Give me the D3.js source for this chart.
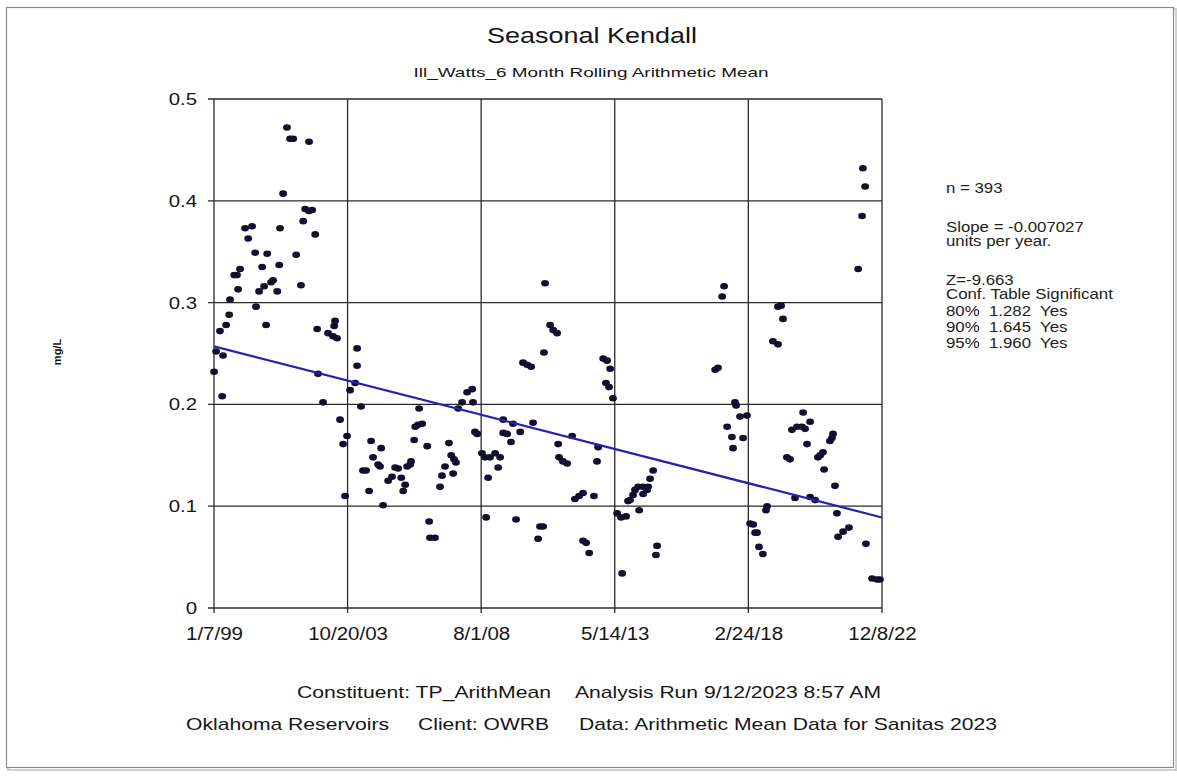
<!DOCTYPE html>
<html>
<head>
<meta charset="utf-8">
<script src="https://cdn.jsdelivr.net/npm/d3@7/dist/d3.min.js"></script>
<style>
  html, body { margin: 0; padding: 0; background: #ffffff; }
  svg { display: block; font-family: "Liberation Sans", Arial, sans-serif; }
  text { white-space: pre; }
</style>
</head>
<body>
<svg id="chart" width="1177" height="778"></svg>
<script>
// Sample dates (decimal years) and 6-month rolling arithmetic mean TP (mg/L)
const sampleYears = [
  1999.02,1999.09,1999.23,1999.31,1999.34,1999.45,1999.56,1999.59,1999.74,1999.84,1999.88,1999.95,
  2000.13,2000.24,2000.38,2000.49,2000.52,2000.63,2000.74,2000.81,2000.88,2000.92,
  2001.06,2001.13,2001.28,2001.35,2001.38,2001.49,2001.63,2001.74,2001.85,2001.96,
  2002.13,2002.21,2002.28,2002.42,2002.42,2002.53,2002.64,2002.71,2002.74,2002.92,
  2003.10,2003.28,2003.32,2003.35,2003.42,2003.53,2003.64,2003.71,2003.78,2003.89,
  2004.07,2004.14,2004.14,2004.28,2004.35,2004.46,2004.57,2004.64,2004.71,2004.89,2004.96,
  2005.00,2005.07,2005.25,2005.39,2005.50,2005.61,2005.72,2005.79,2005.86,2005.93,
  2006.04,2006.07,2006.18,2006.22,2006.32,2006.36,2006.47,2006.65,2006.72,2006.75,2006.93,
  2007.11,2007.18,2007.29,2007.43,2007.51,2007.58,2007.61,2007.68,2007.76,2007.90,
  2008.08,2008.26,2008.29,2008.36,2008.44,2008.61,2008.72,2008.76,2008.83,2008.90,
  2009.08,2009.19,2009.26,2009.37,2009.37,2009.51,2009.65,2009.72,2009.83,2009.98,
  2010.08,2010.23,2010.37,2010.44,2010.62,2010.69,2010.80,2010.83,2010.87,
  2011.05,2011.16,2011.30,2011.34,2011.37,2011.51,2011.66,2011.84,2011.94,
  2012.09,2012.23,2012.23,2012.34,2012.45,2012.62,2012.73,2012.77,2012.95,
  2013.05,2013.09,2013.16,2013.20,2013.30,2013.45,2013.59,2013.63,2013.77,2013.84,2013.91,
  2014.02,2014.09,2014.20,2014.24,2014.38,2014.38,2014.52,2014.56,2014.63,2014.74,2014.84,2014.88,
  2016.96,2017.06,2017.21,2017.28,2017.39,2017.56,2017.60,2017.67,2017.71,2017.85,2017.96,
  2018.10,2018.21,2018.32,2018.39,2018.46,2018.53,2018.67,2018.78,2018.82,
  2019.03,2019.21,2019.21,2019.32,2019.39,2019.53,2019.64,2019.71,2019.82,2019.89,
  2020.07,2020.11,2020.18,2020.25,2020.36,2020.36,2020.54,2020.64,2020.72,2020.82,2020.86,
  2021.07,2021.14,2021.18,2021.25,2021.32,2021.36,2021.54,2021.75,
  2022.08,2022.22,2022.25,2022.33,2022.36,2022.58,2022.76,2022.86
];
const tpValues = [
  0.232,0.252,0.272,0.208,0.248,0.278,0.288,0.303,0.327,0.327,0.313,0.333,
  0.373,0.363,0.375,0.349,0.296,0.311,0.335,0.316,0.278,0.348,
  0.320,0.322,0.311,0.337,0.373,0.407,0.472,0.461,0.461,0.347,
  0.317,0.380,0.392,0.390,0.458,0.391,0.367,0.274,0.230,0.202,
  0.270,0.267,0.277,0.282,0.265,0.185,0.161,0.110,0.169,0.214,
  0.221,0.255,0.238,0.198,0.135,0.135,0.115,0.164,0.148,0.141,0.139,
  0.157,0.101,0.125,0.129,0.138,0.137,0.128,0.115,0.121,0.139,
  0.141,0.144,0.165,0.178,0.180,0.196,0.181,0.159,0.085,0.069,0.069,
  0.119,0.130,0.139,0.162,0.150,0.132,0.146,0.143,0.196,0.202,
  0.212,0.215,0.202,0.173,0.171,0.152,0.148,0.089,0.128,0.148,
  0.152,0.138,0.148,0.185,0.172,0.171,0.163,0.181,0.087,0.173,
  0.241,0.239,0.237,0.182,0.068,0.080,0.080,0.251,0.319,
  0.278,0.273,0.270,0.161,0.148,0.144,0.142,0.169,0.107,
  0.110,0.113,0.066,0.064,0.054,0.110,0.144,0.158,0.245,
  0.221,0.243,0.217,0.235,0.206,0.093,0.089,0.034,0.090,0.105,0.106,
  0.111,0.116,0.119,0.096,0.119,0.112,0.116,0.119,0.127,0.135,0.052,0.061,
  0.234,0.236,0.306,0.316,0.178,0.168,0.157,0.202,0.199,0.188,0.167,
  0.189,0.083,0.082,0.074,0.074,0.060,0.053,0.096,0.100,
  0.262,0.259,0.296,0.297,0.284,0.148,0.146,0.175,0.108,0.178,
  0.178,0.192,0.176,0.161,0.183,0.109,0.106,0.148,0.150,0.153,0.136,
  0.164,0.167,0.171,0.120,0.093,0.070,0.075,0.079,
  0.333,0.385,0.432,0.414,0.063,0.029,0.028,0.028
];

// Axis tick dates (m/d/yy) and value ticks
const dateTicks = ["1/7/99", "10/20/03", "8/1/08", "5/14/13", "2/24/18", "12/8/22"];
const valueTicks = [0, 0.1, 0.2, 0.3, 0.4, 0.5];

// Sen slope trend (units per year) and its value at the first date
const trendSlope = -0.007027;
const trendStart = 0.257;

// Statistics block
const statLines = [
  ["n = 393", 193],
  ["Slope = -0.007027", 232],
  ["units per year.", 246],
  ["Z=-9.663", 285],
  ["Conf. Table Significant", 299],
  ["80%  1.282  Yes", 316],
  ["90%  1.645  Yes", 332],
  ["95%  1.960  Yes", 348]
];

const parseTick = d3.timeParse("%m/%d/%y");
const tickDates = dateTicks.map(parseTick);

function yearToDate(y) {
  const yr = Math.floor(y);
  const start = new Date(yr, 0, 1), end = new Date(yr + 1, 0, 1);
  return new Date(start.getTime() + (y - yr) * (end - start));
}

const points = sampleYears.map((y, i) => ({ date: yearToDate(y), value: tpValues[i] }));

const svg = d3.select("#chart");

// outer panel frame with a soft shadow
svg.append("rect").attr("x", 8).attr("y", 9).attr("width", 1168).attr("height", 761)
  .attr("fill", "none").attr("stroke", "#d0d0d0").attr("stroke-width", 2);
svg.append("rect").attr("x", 6.5).attr("y", 7.5).attr("width", 1167).attr("height", 760)
  .attr("fill", "#ffffff").attr("stroke", "#8a8a8a").attr("stroke-width", 1.2);

const plot = { left: 214, right: 882, top: 99, bottom: 608 };

const x = d3.scaleTime()
  .domain([tickDates[0], tickDates[tickDates.length - 1]])
  .range([plot.left, plot.right]);
const y = d3.scaleLinear().domain([0, 0.5]).range([plot.bottom, plot.top]);

// stretch text horizontally by factor k
function stretch(sel, k) {
  sel.each(function () {
    const len = this.getComputedTextLength();
    d3.select(this).attr("textLength", len * k).attr("lengthAdjust", "spacingAndGlyphs");
  });
}
function fitText(txt, xPos, yPos, size, width, anchor, weight) {
  const t = svg.append("text")
    .attr("x", xPos).attr("y", yPos)
    .attr("font-size", size)
    .attr("text-anchor", anchor || "start")
    .attr("font-weight", weight || "normal")
    .attr("fill", "#161616")
    .text(txt);
  if (width) t.attr("textLength", width).attr("lengthAdjust", "spacingAndGlyphs");
  return t;
}

// grid
const grid = svg.append("g").attr("stroke", "#2a2a2a").attr("stroke-width", 1.3);
grid.selectAll("line.v").data(tickDates).join("line")
  .attr("x1", d => x(d)).attr("x2", d => x(d))
  .attr("y1", plot.top).attr("y2", plot.bottom + 5);
grid.selectAll("line.h").data(valueTicks).join("line")
  .attr("x1", plot.left - 6).attr("x2", plot.right)
  .attr("y1", d => y(d)).attr("y2", d => y(d));

// axes labels via d3 axes (domain and tick lines hidden; grid draws them)
const xAxis = svg.append("g")
  .attr("transform", `translate(0,${plot.bottom})`)
  .call(d3.axisBottom(x).tickValues(tickDates).tickFormat((d, i) => dateTicks[i]).tickSize(0).tickPadding(19));
xAxis.select(".domain").remove();
xAxis.selectAll("text").attr("font-size", 18).attr("fill", "#161616")
  .attr("font-family", "Liberation Sans, Arial, sans-serif");
stretch(xAxis.selectAll("text"), 1.14);

const yAxis = svg.append("g")
  .attr("transform", `translate(${plot.left},0)`)
  .call(d3.axisLeft(y).tickValues(valueTicks).tickFormat(d3.format("~g")).tickSize(0).tickPadding(17));
yAxis.select(".domain").remove();
yAxis.selectAll("text").attr("font-size", 17).attr("fill", "#161616")
  .attr("font-family", "Liberation Sans, Arial, sans-serif");
stretch(yAxis.selectAll("text"), 1.2);

// points
svg.append("g").selectAll("ellipse").data(points).join("ellipse")
  .attr("cx", d => x(d.date)).attr("cy", d => y(d.value))
  .attr("rx", 3.9).attr("ry", 3.3)
  .attr("fill", "#10102e");

// trend line from the slope
const d0 = tickDates[0], d1 = tickDates[tickDates.length - 1];
const yrs = (d1 - d0) / (365.25 * 24 * 3600 * 1000);
svg.append("line")
  .attr("x1", x(d0)).attr("y1", y(trendStart))
  .attr("x2", x(d1)).attr("y2", y(trendStart + trendSlope * yrs))
  .attr("stroke", "#2323b0").attr("stroke-width", 2.2);

// titles
fitText("Seasonal Kendall", 592, 43, 22, 210, "middle");
fitText("Ill_Watts_6 Month Rolling Arithmetic Mean", 591, 77, 13, 355, "middle");

// y axis title
svg.append("text")
  .attr("transform", "translate(61,352) rotate(-90)")
  .attr("text-anchor", "middle").attr("font-size", 11).attr("font-weight", "bold")
  .attr("fill", "#161616").text("mg/L");

// statistics block
const stats = svg.append("g");
stats.selectAll("text").data(statLines).join("text")
  .attr("x", 946).attr("y", d => d[1])
  .attr("font-size", 14).attr("fill", "#222")
  .text(d => d[0]);
stretch(stats.selectAll("text"), 1.2);

// footer
fitText("Constituent: TP_ArithMean", 297, 698, 17, 254);
fitText("Analysis Run 9/12/2023 8:57 AM", 575, 698, 17, 306);
fitText("Oklahoma Reservoirs", 186, 730, 17, 203);
fitText("Client: OWRB", 418, 730, 17, 131);
fitText("Data: Arithmetic Mean Data for Sanitas 2023", 579, 730, 17, 418);
</script>
</body>
</html>
